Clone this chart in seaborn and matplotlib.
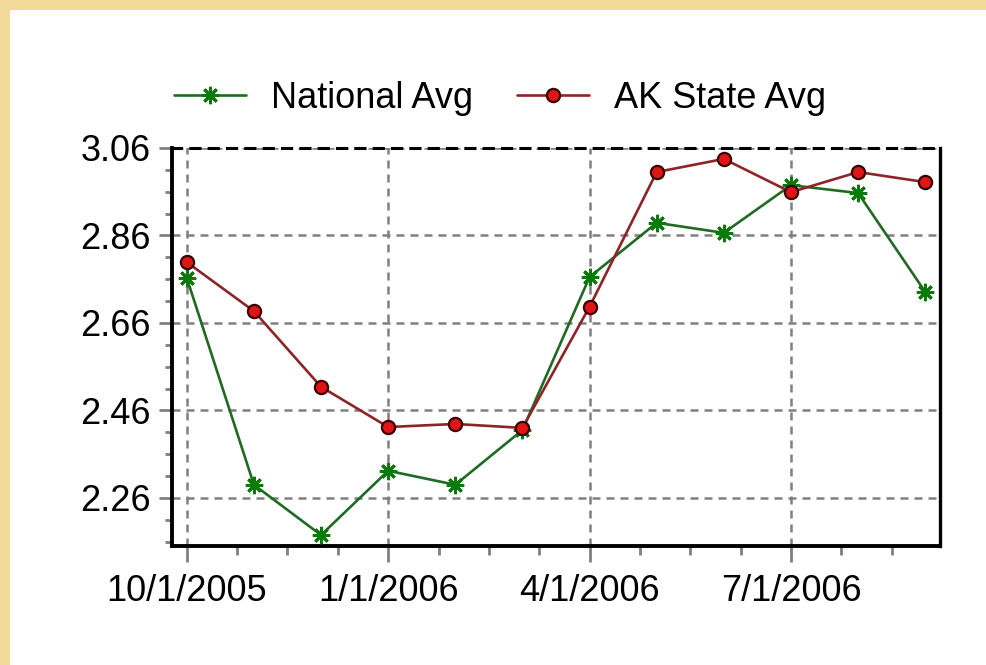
import matplotlib
matplotlib.use("Agg")
import matplotlib.pyplot as plt
from matplotlib.patches import Rectangle
from matplotlib.ticker import FixedLocator
import seaborn as sns
import pandas as pd

months = ["10/1/2005", "11/1/2005", "12/1/2005", "1/1/2006", "2/1/2006", "3/1/2006",
          "4/1/2006", "5/1/2006", "6/1/2006", "7/1/2006", "8/1/2006", "9/1/2006"]
national_avg = [2.763, 2.290, 2.175, 2.322, 2.290, 2.415,
                2.765, 2.889, 2.866, 2.975, 2.957, 2.731]
ak_state_avg = [2.799, 2.687, 2.514, 2.422, 2.429, 2.420,
                2.697, 3.005, 3.035, 2.959, 3.005, 2.982]
x_tick_labels = ["10/1/2005", "1/1/2006", "4/1/2006", "7/1/2006"]
y_ticks = [2.26, 2.46, 2.66, 2.86, 3.06]

df = pd.DataFrame({"idx": range(len(months)), "month": months,
                   "National Avg": national_avg, "AK State Avg": ak_state_avg})

sns.set_theme(style="white")
plt.rcParams["font.family"] = ["Liberation Sans", "DejaVu Sans"]
plt.rcParams["text.color"] = "black"

fig = plt.figure(figsize=(9.86, 6.65), dpi=100, facecolor="#F3D99A")
bg = Rectangle((10 / 986, 0), 1, 1 - 10 / 665, transform=fig.transFigure,
               facecolor="white", edgecolor="none", zorder=-10)
fig.add_artist(bg)
ax = fig.add_axes([172 / 986, 1 - 546 / 665, (940 - 172) / 986, (546 - 148) / 665])
ax.set_zorder(5)
ax.set_facecolor("white")

sns.lineplot(data=df, x="idx", y="National Avg", ax=ax, color="#1F6B22", linewidth=1.9,
             marker=(8, 2, 0), markersize=12.5, markeredgewidth=2,
             markeredgecolor="#0A7A0A", markerfacecolor="#0A7A0A",
             label="National Avg", zorder=3)
sns.lineplot(data=df, x="idx", y="AK State Avg", ax=ax, color="#8E2328", linewidth=1.9,
             marker="o", markersize=9.5, markeredgewidth=1.6,
             markeredgecolor="#3A0000", markerfacecolor="#E01515",
             label="AK State Avg", zorder=4)

ax.set_xlim(-0.22, 11.22)
ax.set_ylim(2.15, 3.06)
ax.set_xticks([0, 3, 6, 9])
ax.set_xticklabels(x_tick_labels)
ax.xaxis.set_minor_locator(FixedLocator([0.75, 1.5, 2.25, 3.75, 4.5, 5.25, 6.75, 7.5, 8.25, 9.75, 10.5]))
ax.set_yticks(y_ticks)
ax.set_yticklabels([f"{v:.2f}" for v in y_ticks])
ax.yaxis.set_minor_locator(FixedLocator([2.16, 2.21, 2.31, 2.36, 2.41, 2.51, 2.56, 2.61,
                                         2.71, 2.76, 2.81, 2.91, 2.96, 3.01]))
ax.set_xlabel("")
ax.set_ylabel("")

ax.grid(True, which="major", color="#808080", linestyle=(0, (3.2, 2.4)), linewidth=1.8)
ax.set_axisbelow(True)

ax.tick_params(axis="x", which="major", direction="out", length=11.5, width=2,
               color="#808080", labelsize=26, labelcolor="black", pad=9)
ax.tick_params(axis="y", which="major", direction="out", length=9.5, width=2,
               color="#808080", labelsize=26, labelcolor="black", pad=6)
ax.tick_params(axis="x", which="minor", direction="out", length=6.5, width=2,
               color="#808080")
ax.tick_params(axis="y", which="minor", direction="out", length=5, width=2,
               color="#808080")
ax.tick_params(bottom=True, left=True, which="both")

for side in ["left", "bottom", "right"]:
    ax.spines[side].set_color("black")
    ax.spines[side].set_linewidth(2.8)
ax.spines["right"].set_linewidth(2.4)
ax.spines["top"].set_color("black")
ax.spines["top"].set_linewidth(2.2)
ax.spines["top"].set_linestyle((0, (3, 3)))

handles, labels = ax.get_legend_handles_labels()
ax.get_legend().remove()
leg = fig.legend(handles, labels, loc="center", bbox_to_anchor=(500 / 986, 1 - 98 / 665),
                 ncol=2, frameon=False, fontsize=26, handlelength=2.0, handletextpad=0.7,
                 columnspacing=1.2)
for t in leg.get_texts():
    t.set_color("black")

fig.savefig("out.png", dpi=100, facecolor=fig.get_facecolor())
